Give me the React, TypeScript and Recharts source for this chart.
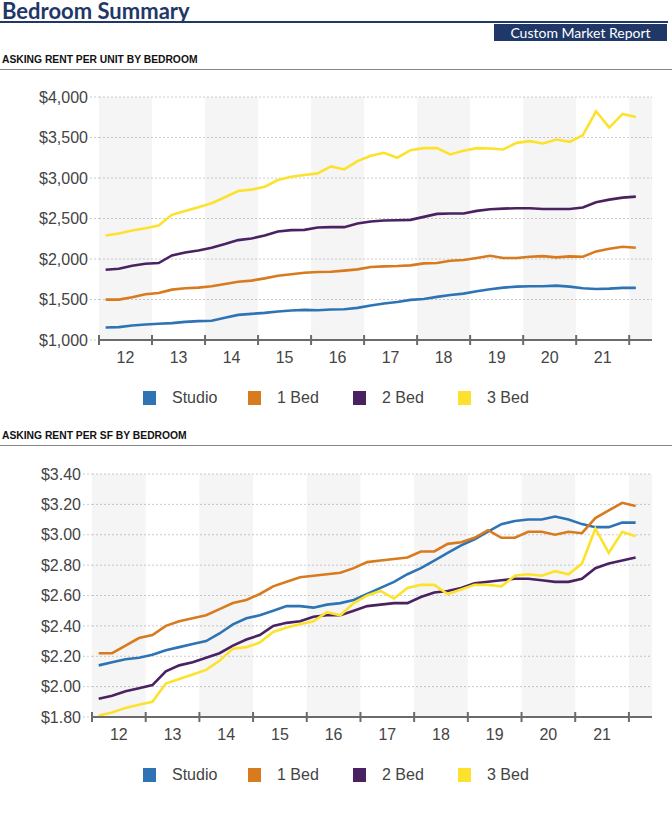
import React from 'react';
import { LineChart, Line, XAxis, YAxis, CartesianGrid, ReferenceArea, Legend } from 'recharts';

// quarterly asking rents, 2012 Q1 .. 2022 Q1
const years = [2012, 2013, 2014, 2015, 2016, 2017, 2018, 2019, 2020, 2021, 2022];
const quarterNames = ['Q1', 'Q2', 'Q3', 'Q4'];

const studioUnit = [
  1155, 1159, 1179, 1192, 1200, 1208, 1224, 1233, 1237, 1274, 1310, 1323,
  1335, 1351, 1364, 1372, 1368, 1376, 1380, 1397, 1425, 1450, 1470, 1495,
  1507, 1532, 1556, 1573, 1601, 1626, 1647, 1659, 1663, 1663, 1671, 1659,
  1638, 1630, 1634, 1643, 1643,
];
const oneBedUnit = [
  1499, 1499, 1527, 1565, 1581, 1622, 1638, 1647, 1663, 1692, 1720, 1733,
  1761, 1794, 1811, 1831, 1839, 1843, 1856, 1872, 1901, 1909, 1913, 1921,
  1946, 1950, 1979, 1987, 2012, 2040, 2012, 2012, 2028, 2036, 2020, 2032,
  2028, 2094, 2126, 2151, 2139,
];
const twoBedUnit = [
  1868, 1880, 1917, 1942, 1950, 2044, 2081, 2106, 2139, 2184, 2233, 2253,
  2290, 2340, 2356, 2360, 2389, 2393, 2393, 2438, 2463, 2475, 2479, 2483,
  2520, 2557, 2561, 2561, 2594, 2614, 2622, 2627, 2627, 2618, 2618, 2618,
  2635, 2700, 2733, 2758, 2770,
];
const threeBedUnit = [
  2290, 2315, 2352, 2380, 2413, 2545, 2594, 2639, 2688, 2762, 2840, 2856,
  2893, 2975, 3016, 3036, 3057, 3143, 3106, 3209, 3274, 3311, 3250, 3344,
  3369, 3369, 3291, 3336, 3369, 3365, 3352, 3434, 3455, 3426, 3475, 3447,
  3529, 3824, 3623, 3791, 3754,
];

const studioSf = [
  2.14, 2.16, 2.18, 2.19, 2.21, 2.24, 2.26, 2.28, 2.30, 2.35, 2.41, 2.45,
  2.47, 2.50, 2.53, 2.53, 2.52, 2.54, 2.55, 2.57, 2.61, 2.65, 2.69, 2.74,
  2.78, 2.83, 2.88, 2.93, 2.97, 3.02, 3.07, 3.09, 3.10, 3.10, 3.12, 3.10,
  3.07, 3.05, 3.05, 3.08, 3.08,
];
const oneBedSf = [
  2.22, 2.22, 2.27, 2.32, 2.34, 2.40, 2.43, 2.45, 2.47, 2.51, 2.55, 2.57,
  2.61, 2.66, 2.69, 2.72, 2.73, 2.74, 2.75, 2.78, 2.82, 2.83, 2.84, 2.85,
  2.89, 2.89, 2.94, 2.95, 2.98, 3.03, 2.98, 2.98, 3.02, 3.02, 3.00, 3.02,
  3.01, 3.11, 3.16, 3.21, 3.19,
];
const twoBedSf = [
  1.92, 1.94, 1.97, 1.99, 2.01, 2.10, 2.14, 2.16, 2.19, 2.22, 2.27, 2.31,
  2.34, 2.40, 2.42, 2.43, 2.46, 2.47, 2.47, 2.50, 2.53, 2.54, 2.55, 2.55,
  2.59, 2.62, 2.63, 2.65, 2.68, 2.69, 2.70, 2.71, 2.71, 2.70, 2.69, 2.69,
  2.71, 2.78, 2.81, 2.83, 2.85,
];
const threeBedSf = [
  1.81, 1.83, 1.86, 1.88, 1.90, 2.02, 2.05, 2.08, 2.11, 2.17, 2.25, 2.26,
  2.29, 2.36, 2.39, 2.41, 2.43, 2.49, 2.47, 2.55, 2.60, 2.63, 2.58, 2.65,
  2.67, 2.67, 2.61, 2.64, 2.67, 2.67, 2.66, 2.73, 2.74, 2.73, 2.76, 2.74,
  2.81, 3.04, 2.88, 3.02, 2.99,
];

const seriesNames = ['Studio', '1 Bed', '2 Bed', '3 Bed'];
const seriesKeys = ['studio', 'oneBed', 'twoBed', 'threeBed'];
const seriesColors = ['#2e74b5', '#d87a1e', '#4a2261', '#fde22d'];

const unitTicks = [1000, 1500, 2000, 2500, 3000, 3500, 4000];
const sfTicks = [1.8, 2.0, 2.2, 2.4, 2.6, 2.8, 3.0, 3.2, 3.4];
const yearLabels = ['12', '13', '14', '15', '16', '17', '18', '19', '20', '21'];

const X_MAX = 2022.43;
const FONT = '"Liberation Sans", Arial, sans-serif';

// quarter -> position at middle of the quarter on a year scale
const quarters = years.flatMap((y) => quarterNames.map((q) => ({ year: y, q }))).slice(0, studioUnit.length);

function buildRows(values: number[][]) {
  return quarters.map((qt, i) => {
    const row: any = { t: qt.year + (quarterNames.indexOf(qt.q) + 0.5) / 4, label: `${qt.year} ${qt.q}` };
    seriesKeys.forEach((k, s) => { row[k] = values[s][i]; });
    return row;
  });
}

const unitRows = buildRows([studioUnit, oneBedUnit, twoBedUnit, threeBedUnit]);
const sfRows = buildRows([studioSf, oneBedSf, twoBedSf, threeBedSf]);

const YearMark = (p: any) => (
  <line x1={p.x} x2={p.x} y1={p.y - 5} y2={p.y + 5} stroke="#6b6b6b" strokeWidth={2} />
);

function SeriesLegend() {
  return (
    <div style={{ display: 'flex', paddingLeft: 143, paddingTop: 21, height: 47, boxSizing: 'border-box', fontFamily: FONT }}>
      {seriesNames.map((name, s) => (
        <div key={name} style={{ width: 105, display: 'flex', alignItems: 'center', height: 18 }}>
          <span style={{ width: 13, height: 14, background: seriesColors[s], display: 'inline-block' }} />
          <span style={{ marginLeft: 16, fontSize: 16, color: '#444' }}>{name}</span>
        </div>
      ))}
    </div>
  );
}

interface BlockProps {
  top: number;
  rows: any[];
  ticks: number[];
  fmt: (v: number) => string;
  axisWidth: number;
}

function RentChart({ top, rows, ticks, fmt, axisWidth }: BlockProps) {
  const bands = years.filter((_, i) => i % 2 === 0);
  return (
    <div style={{ position: 'absolute', left: 0, top }}>
      <LineChart width={672} height={330} data={rows} margin={{ top: 12, right: 20, bottom: 0, left: 0 }}>
        {bands.map((y) => (
          <ReferenceArea key={y} xAxisId="axA" x1={y} x2={Math.min(y + 1, X_MAX)} fill="#000" fillOpacity={0.04} stroke="none" />
        ))}
        <CartesianGrid xAxisId="axA" vertical={false} stroke="#cccccc" strokeDasharray="2 2" />
        <XAxis
          xAxisId="axA"
          dataKey="t"
          type="number"
          domain={[2012, X_MAX]}
          ticks={years}
          interval={0}
          height={8}
          tickSize={0}
          tickMargin={0}
          tickLine={false}
          tick={YearMark}
          axisLine={{ stroke: '#6b6b6b', strokeWidth: 2 }}
        />
        <XAxis
          xAxisId="axB"
          dataKey="t"
          type="number"
          domain={[2012, X_MAX]}
          ticks={yearLabels.map((_, i) => years[i] + 0.5)}
          interval={0}
          height={20}
          tickSize={0}
          tickMargin={4}
          tickLine={false}
          axisLine={false}
          tickFormatter={(v: number) => yearLabels[Math.floor(v) - years[0]]}
          tick={{ fill: '#444', fontSize: 16, fontFamily: FONT }}
        />
        <YAxis
          width={axisWidth}
          domain={[ticks[0], ticks[ticks.length - 1]]}
          ticks={ticks}
          interval={0}
          tickSize={9}
          tickMargin={2}
          axisLine={false}
          tickLine={{ stroke: '#cccccc', strokeDasharray: '2 2' }}
          tickFormatter={fmt}
          tick={{ fill: '#444', fontSize: 16, fontFamily: FONT }}
        />
        <Legend verticalAlign="bottom" height={47} content={<SeriesLegend />} />
        {seriesKeys.map((k, s) => (
          <Line
            key={k}
            xAxisId="axA"
            type="linear"
            dataKey={k}
            name={seriesNames[s]}
            stroke={seriesColors[s]}
            strokeWidth={2.6}
            dot={false}
            activeDot={false}
            isAnimationActive={false}
          />
        ))}
      </LineChart>
    </div>
  );
}

export default function App() {
  const navy = '#1f3868';
  return (
    <div style={{ position: 'absolute', left: 0, top: 0, width: 672, height: 820, background: '#fff', overflow: 'hidden' }}>
      <div style={{ position: 'absolute', left: 2, top: 0, fontFamily: 'Lato, sans-serif', fontWeight: 700, fontSize: 22, color: navy, lineHeight: '22px' }}>
        Bedroom Summary
      </div>
      <div style={{ position: 'absolute', left: 0, top: 21, width: 668, height: 1.5, background: navy }} />
      <div style={{ position: 'absolute', left: 494, top: 24, width: 173, height: 17, background: navy, color: '#fff', fontFamily: 'Lato, sans-serif', fontSize: 14, lineHeight: '17px', textAlign: 'center' }}>
        Custom Market Report
      </div>

      <div style={{ position: 'absolute', left: 2, top: 54, fontFamily: FONT, fontWeight: 700, fontSize: 10.3, color: '#111', lineHeight: '12px' }}>
        ASKING RENT PER UNIT BY BEDROOM
      </div>
      <div style={{ position: 'absolute', left: 0, top: 69, width: 672, height: 1, background: '#888' }} />
      <RentChart top={85} rows={unitRows} ticks={unitTicks} fmt={(v) => `$${v.toLocaleString('en-US')}`} axisWidth={99} />

      <div style={{ position: 'absolute', left: 2, top: 430, fontFamily: FONT, fontWeight: 700, fontSize: 10.3, color: '#111', lineHeight: '12px' }}>
        ASKING RENT PER SF BY BEDROOM
      </div>
      <div style={{ position: 'absolute', left: 0, top: 445, width: 672, height: 1, background: '#888' }} />
      <RentChart top={462} rows={sfRows} ticks={sfTicks} fmt={(v) => `$${v.toFixed(2)}`} axisWidth={92} />
    </div>
  );
}
